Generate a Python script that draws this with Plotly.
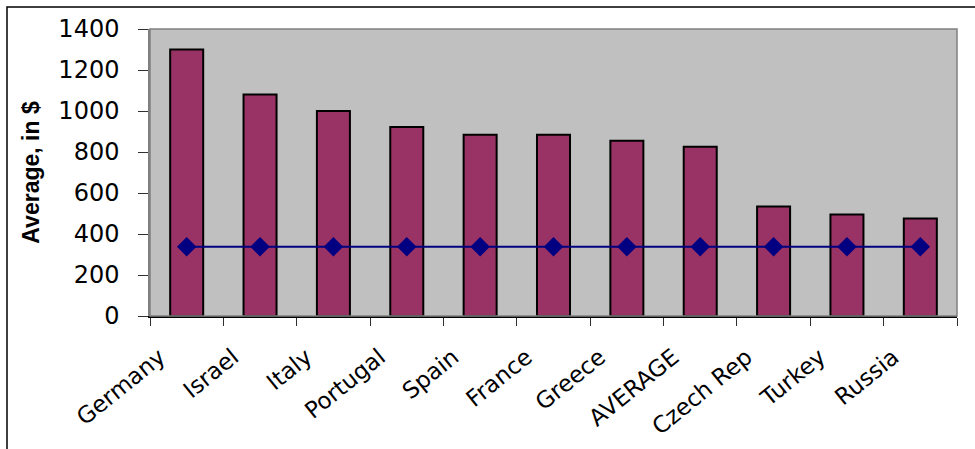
import plotly.graph_objects as go

# Average spending per destination, in dollars
countries = ["Germany", "Israel", "Italy", "Portugal", "Spain", "France",
             "Greece", "AVERAGE", "Czech Rep", "Turkey", "Russia"]
averages = [1300, 1080, 1000, 922, 884, 884, 855, 826, 534, 495, 476]
baseline = [338] * len(countries)

y_ticks = [0, 200, 400, 600, 800, 1000, 1200, 1400]

W, H = 975, 449
L, R, T, B = 150, 18, 29, 133
pw, ph = W - L - R, H - T - B

fig = go.Figure()
fig.add_trace(go.Bar(
    x=countries, y=averages,
    marker=dict(color="#993366", line=dict(color="black", width=2)),
    width=0.45, showlegend=False,
))
fig.add_trace(go.Scatter(
    x=countries, y=baseline, mode="lines+markers",
    line=dict(color="#000080", width=2),
    marker=dict(symbol="diamond", size=15, color="#000080"),
    showlegend=False,
))

# outer chart border (left and top edges visible)
bx = (7 - L) / pw
by = 1 + (T - 7) / ph
fig.add_shape(type="path", xref="paper", yref="paper",
              path=f"M {bx} -1 L {bx} {by} L 1.2 {by}",
              line=dict(color="black", width=1.5))
# plot area frame
fig.add_shape(type="rect", xref="paper", yref="paper", x0=0, y0=0, x1=1, y1=1,
              line=dict(color="#808080", width=1.5), layer="above")

tick_font = "DejaVu Sans, Liberation Sans, Arial, sans-serif"
fig.update_layout(
    width=W, height=H,
    margin=dict(l=L, r=R, t=T, b=B, autoexpand=False),
    paper_bgcolor="white",
    plot_bgcolor="#C0C0C0",
    font=dict(family=tick_font, color="black"),
    xaxis=dict(
        type="category", tickangle=-39, tickfont=dict(size=23),
        ticks="outside", ticklen=8, tickcolor="#303030", tickson="boundaries",
        showline=True, linecolor="black", linewidth=1.5,
        showgrid=False, range=[-0.5, len(countries) - 0.5],
        ticklabelstandoff=17, ticklabelshift=-27, automargin=False,
    ),
    yaxis=dict(
        range=[0, 1400], tickvals=y_ticks, tickfont=dict(size=24),
        ticks="outside", ticklen=10, tickcolor="#303030",
        showline=True, linecolor="#808080", linewidth=1.5,
        showgrid=False, zeroline=False, ticklabelstandoff=14, automargin=False,
        title=dict(text="<b>Average, in $</b>", standoff=12,
                   font=dict(size=23, family="Liberation Sans, Arial, sans-serif")),
    ),
)

fig.write_html("out.html")
